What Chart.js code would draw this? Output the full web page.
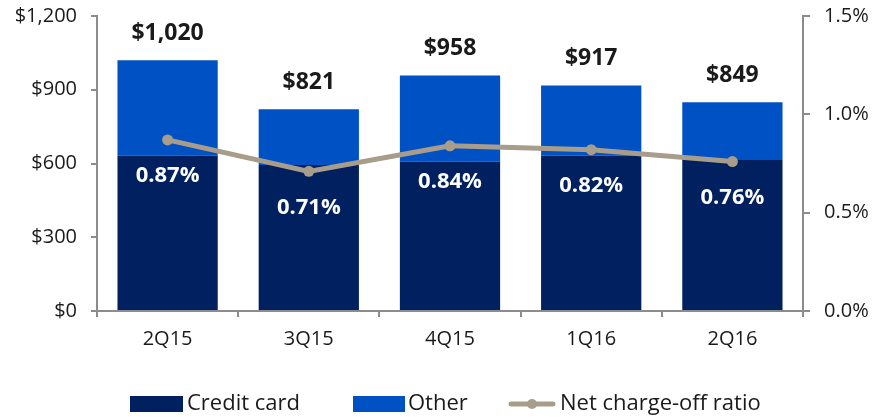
<!DOCTYPE html>
<html>
<head>
<meta charset="utf-8">
<script src="https://cdn.jsdelivr.net/npm/chart.js@4/dist/chart.umd.min.js"></script>
<style>
  html, body { margin: 0; padding: 0; background: #fff; }
  #wrap { width: 875px; height: 417px; position: relative; }
</style>
</head>
<body>
<div id="wrap"><canvas id="chart" width="875" height="417"></canvas></div>
<script>
// Chart data
const quarters = ['2Q15', '3Q15', '4Q15', '1Q16', '2Q16'];
const creditCard = [633, 594, 607, 632, 614];
const other = [387, 227, 351, 285, 235];
const totals = [1020, 821, 958, 917, 849];
const chargeOffRatio = [0.87, 0.71, 0.84, 0.82, 0.76];
const leftTicks = [0, 300, 600, 900, 1200];
const rightTicks = [0, 0.5, 1.0, 1.5];
const seriesNames = ['Credit card', 'Other', 'Net charge-off ratio'];

const navy = '#002060';
const blue = '#0052C4';
const tan = '#A89C8B';
const axisGrey = '#8C8C8C';
const font = '"Open Sans", "DejaVu Sans", sans-serif';

// Value labels above bars and ratio labels below the line
const labelPlugin = {
    id: 'valueLabels',
    afterDatasetsDraw(chart) {
        const c = chart.ctx;
        const x = chart.scales.x;
        const y = chart.scales.y;
        const y2 = chart.scales.y2;
        c.save();
        c.textAlign = 'center';
        c.textBaseline = 'middle';
        c.font = 'bold 23px ' + font;
        totals.forEach((t, i) => {
            c.fillStyle = '#1a1a1a';
            c.fillText('$' + t.toLocaleString('en-US'), x.getPixelForValue(i), y.getPixelForValue(t) - 27);
        });
        c.font = 'bold 22px ' + font;
        chargeOffRatio.forEach((r, i) => {
            c.fillStyle = '#ffffff';
            c.fillText(r.toFixed(2) + '%', x.getPixelForValue(i), y2.getPixelForValue(r) + 36);
        });
        c.restore();
    }
};

// Legend row under the axis, spaced like the original slide
const legendPlugin = {
    id: 'bottomLegend',
    afterDraw(chart) {
        const c = chart.ctx;
        const cy = 404;
        c.save();
        c.font = '22px ' + font;
        c.textBaseline = 'middle';
        // credit card
        c.fillStyle = navy;
        c.fillRect(130, cy - 8, 53, 16);
        c.fillStyle = '#1a1a1a';
        c.fillText(seriesNames[0], 187, cy);
        // other
        c.fillStyle = blue;
        c.fillRect(353, cy - 8, 52, 16);
        c.fillStyle = '#1a1a1a';
        c.fillText(seriesNames[1], 408, cy);
        // ratio line
        c.strokeStyle = tan;
        c.lineWidth = 5;
        c.lineCap = 'round';
        c.beginPath();
        c.moveTo(511, cy);
        c.lineTo(553, cy);
        c.stroke();
        c.fillStyle = tan;
        c.beginPath();
        c.arc(532, cy, 5, 0, Math.PI * 2);
        c.fill();
        c.fillStyle = '#1a1a1a';
        c.fillText(seriesNames[2], 560, cy);
        c.restore();
    }
};

// vertical axes: fixed width, no extra room above/below for labels
function fitVertical(width) {
    return s => {
        s.width = width;
        s.paddingTop = 0;
        s.paddingBottom = 0;
    };
}

new Chart(document.getElementById('chart'), {
    type: 'bar',
    data: {
        labels: quarters,
        datasets: [
            {
                label: seriesNames[0],
                data: creditCard,
                backgroundColor: navy,
                stack: 'a',
                order: 2,
                categoryPercentage: 1.0,
                barPercentage: 0.71
            },
            {
                label: seriesNames[1],
                data: other,
                backgroundColor: blue,
                stack: 'a',
                order: 2,
                categoryPercentage: 1.0,
                barPercentage: 0.71
            },
            {
                type: 'line',
                label: seriesNames[2],
                data: chargeOffRatio,
                yAxisID: 'y2',
                borderColor: tan,
                backgroundColor: tan,
                borderWidth: 5,
                pointRadius: 5.5,
                pointBackgroundColor: tan,
                pointBorderWidth: 0,
                tension: 0,
                order: 0
            }
        ]
    },
    options: {
        responsive: false,
        animation: false,
        layout: { autoPadding: false, padding: { top: 16, left: 0, right: 0, bottom: 46 } },
        plugins: {
            tooltip: { enabled: false },
            legend: { display: false }
        },
        scales: {
            x: {
                stacked: true,
                afterFit(s) { s.height = 60; s.paddingLeft = 0; s.paddingRight = 0; },
                border: { color: axisGrey, width: 2 },
                grid: { display: true, drawOnChartArea: false, offset: true, tickLength: 6, color: axisGrey, lineWidth: 2 },
                ticks: { color: '#1a1a1a', padding: 10, font: { family: font, size: 20 } }
            },
            y: {
                stacked: true,
                min: 0,
                max: 1200,
                afterFit: fitVertical(97),
                afterBuildTicks(s) { s.ticks = leftTicks.map(v => ({ value: v })); },
                border: { color: axisGrey, width: 2 },
                grid: { drawOnChartArea: false, tickLength: 6, color: axisGrey, lineWidth: 2 },
                ticks: {
                    color: '#1a1a1a',
                    padding: 14,
                    font: { family: font, size: 20 },
                    callback: v => '$' + v.toLocaleString('en-US')
                }
            },
            y2: {
                position: 'right',
                min: 0,
                max: 1.5,
                afterFit: fitVertical(72),
                afterBuildTicks(s) { s.ticks = rightTicks.map(v => ({ value: v })); },
                border: { color: axisGrey, width: 2 },
                grid: { drawOnChartArea: false, tickLength: 7, color: axisGrey, lineWidth: 2 },
                ticks: {
                    color: '#1a1a1a',
                    padding: 14,
                    font: { family: font, size: 20 },
                    callback: v => v.toFixed(1) + '%'
                }
            }
        }
    },
    plugins: [labelPlugin, legendPlugin]
});
</script>
</body>
</html>
